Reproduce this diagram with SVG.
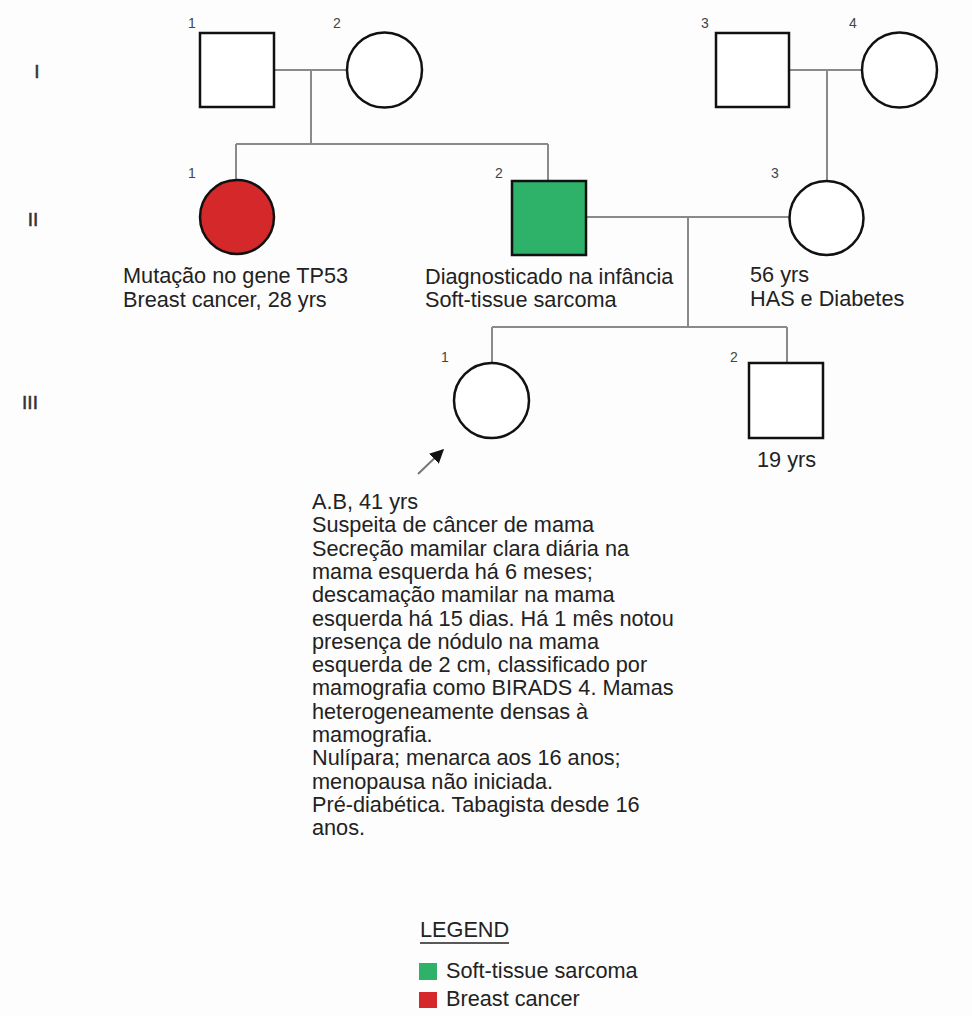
<svg xmlns="http://www.w3.org/2000/svg" width="972" height="1016" viewBox="0 0 972 1016">
<defs>
<style>
.bg{fill:#fdfdfd}
.shape{fill:#fff;stroke:#111;stroke-width:2.5}
.aff-red{fill:#d4282a;stroke:#111;stroke-width:2.5}
.aff-green{fill:#2eb26a;stroke:#111;stroke-width:2.5}
.conn{stroke:#8a8a8a;stroke-width:2;fill:none}
.t{font-family:"Liberation Sans",Arial,sans-serif;font-size:21.7px;fill:#222}
.num{font-family:"Liberation Sans",Arial,sans-serif;font-size:14px;fill:#444}
.gen{font-family:"Liberation Sans",Arial,sans-serif;font-size:19px;fill:#333;stroke:#333;stroke-width:0.5}
</style>
<marker id="ah" viewBox="0 0 10 10" refX="9" refY="5" markerWidth="14" markerHeight="14" markerUnits="userSpaceOnUse" orient="auto">
<path d="M0,0 L10,5 L0,10 z" fill="#111"/>
</marker>
</defs>
<rect class="bg" x="0" y="0" width="972" height="1016"/>

<g id="generations">
<text class="gen" x="37" y="78" text-anchor="middle">I</text>
<text class="gen" x="33" y="226" text-anchor="middle">II</text>
<text class="gen" x="30" y="409" text-anchor="middle">III</text>
</g>

<g id="connectors">
<line class="conn" x1="274" y1="70" x2="347" y2="70"/>
<line class="conn" x1="311" y1="70" x2="311" y2="144"/>
<line class="conn" x1="236" y1="144" x2="548" y2="144"/>
<line class="conn" x1="236" y1="144" x2="236" y2="180"/>
<line class="conn" x1="548" y1="144" x2="548" y2="181"/>
<line class="conn" x1="789" y1="70" x2="862" y2="70"/>
<line class="conn" x1="827" y1="70" x2="827" y2="181"/>
<line class="conn" x1="586" y1="217" x2="789" y2="217"/>
<line class="conn" x1="688" y1="217" x2="688" y2="327"/>
<line class="conn" x1="492" y1="327" x2="787" y2="327"/>
<line class="conn" x1="492" y1="327" x2="492" y2="363"/>
<line class="conn" x1="787" y1="327" x2="787" y2="363"/>
<line x1="418" y1="474" x2="443" y2="450" stroke="#777" stroke-width="2" marker-end="url(#ah)"/>
</g>

<g id="I-1">
<rect class="shape" x="200" y="33" width="74" height="74"/>
<text class="num" x="192" y="28" text-anchor="middle">1</text>
</g>
<g id="I-2">
<circle class="shape" cx="384.5" cy="70" r="37.5"/>
<text class="num" x="337" y="28" text-anchor="middle">2</text>
</g>
<g id="I-3">
<rect class="shape" x="716" y="33" width="73" height="74"/>
<text class="num" x="705" y="28" text-anchor="middle">3</text>
</g>
<g id="I-4">
<circle class="shape" cx="899.5" cy="70" r="37.5"/>
<text class="num" x="853" y="28" text-anchor="middle">4</text>
</g>

<g id="II-1">
<circle class="aff-red" cx="237" cy="217" r="37"/>
<text class="num" x="192" y="178" text-anchor="middle">1</text>
<text class="t" x="123" y="283">Mutação no gene TP53</text>
<text class="t" x="123" y="307">Breast cancer, 28 yrs</text>
</g>
<g id="II-2">
<rect class="aff-green" x="512" y="181" width="74" height="74"/>
<text class="num" x="499" y="178" text-anchor="middle">2</text>
<text class="t" x="425" y="284">Diagnosticado na infância</text>
<text class="t" x="425" y="307">Soft-tissue sarcoma</text>
</g>
<g id="II-3">
<circle class="shape" cx="826.5" cy="218" r="37"/>
<text class="num" x="775" y="178" text-anchor="middle">3</text>
<text class="t" x="750" y="282">56 yrs</text>
<text class="t" x="750" y="306">HAS e Diabetes</text>
</g>

<g id="III-1">
<circle class="shape" cx="491.5" cy="400.5" r="37.5"/>
<text class="num" x="445" y="362" text-anchor="middle">1</text>
<text class="t" x="312">
<tspan x="312" y="509">A.B, 41 yrs</tspan>
<tspan x="312" dy="23.3">Suspeita de câncer de mama</tspan>
<tspan x="312" dy="23.3">Secreção mamilar clara diária na</tspan>
<tspan x="312" dy="23.3">mama esquerda há 6 meses;</tspan>
<tspan x="312" dy="23.3">descamação mamilar na mama</tspan>
<tspan x="312" dy="23.3">esquerda há 15 dias. Há 1 mês notou</tspan>
<tspan x="312" dy="23.3">presença de nódulo na mama</tspan>
<tspan x="312" dy="23.3">esquerda de 2 cm, classificado por</tspan>
<tspan x="312" dy="23.3">mamografia como BIRADS 4. Mamas</tspan>
<tspan x="312" dy="23.3">heterogeneamente densas à</tspan>
<tspan x="312" dy="23.3">mamografia.</tspan>
<tspan x="312" dy="23.3">Nulípara; menarca aos 16 anos;</tspan>
<tspan x="312" dy="23.3">menopausa não iniciada.</tspan>
<tspan x="312" dy="23.3">Pré-diabética. Tabagista desde 16</tspan>
<tspan x="312" dy="23.3">anos.</tspan>
</text>
</g>
<g id="III-2">
<rect class="shape" x="749" y="363" width="74" height="75"/>
<text class="num" x="734" y="362" text-anchor="middle">2</text>
<text class="t" x="757" y="467">19 yrs</text>
</g>

<g id="legend">
<text class="t" x="420" y="937">LEGEND</text>
<line x1="420" y1="943" x2="509" y2="943" stroke="#222" stroke-width="1.5"/>
<rect x="419" y="963" width="18" height="17" fill="#2eb26a"/>
<text class="t" x="446" y="978">Soft-tissue sarcoma</text>
<rect x="419" y="992" width="18" height="16" fill="#d4282a"/>
<text class="t" x="446" y="1006">Breast cancer</text>
</g>
</svg>
